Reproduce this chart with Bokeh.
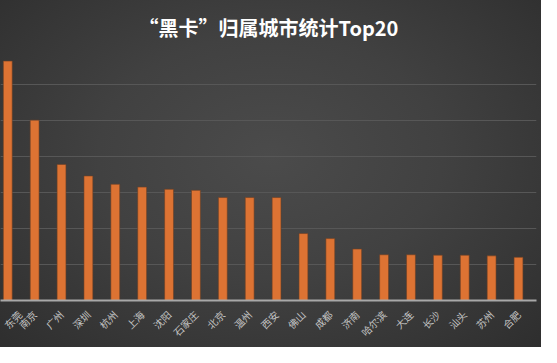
from bokeh.plotting import figure
from bokeh.models import Range1d, FixedTicker, Title
from bokeh.embed import file_html
from bokeh.resources import INLINE

cities = ["东莞", "南京", "广州", "深圳", "杭州", "上海", "沈阳", "石家庄", "北京", "温州",
          "西安", "佛山", "成都", "济南", "哈尔滨", "大连", "长沙", "汕头", "苏州", "合肥"]
values = [6.65, 5.01, 3.78, 3.46, 3.23, 3.15, 3.09, 3.06, 2.86, 2.86,
          2.86, 1.86, 1.72, 1.43, 1.27, 1.27, 1.26, 1.26, 1.24, 1.20]
title_text = "“黑卡”归属城市统计Top20"

xs = list(range(len(cities)))

p = figure(width=541, height=347, output_backend="svg", toolbar_location=None,
           x_range=Range1d(-0.27, 19.67), y_range=Range1d(0, 7),
           min_border_left=0, min_border_right=5, min_border_top=48, min_border_bottom=36)

p.background_fill_color = None
p.border_fill_color = None
p.outline_line_color = None
p.styles = {"background-image": "radial-gradient(ellipse at 50% 45%, #4b4b4b 0%, #414141 45%, #353535 80%, #2e2e2e 100%)"}

t = Title(text=title_text, align="center", text_color="#ffffff", text_font_size="20px",
          text_font="Noto Sans CJK SC", text_font_style="bold", standoff=14)
p.add_layout(t, "above")

p.vbar(x=xs, top=values, width=0.33, bottom=0, fill_color="#DD7333",
       line_color="#6b3f25", line_width=0.6)

p.yaxis.visible = False
p.xgrid.visible = False
p.ygrid.ticker = FixedTicker(ticks=[1, 2, 3, 4, 5, 6, 7])
p.ygrid.grid_line_color = "#575757"
p.ygrid.grid_line_width = 1

ax = p.xaxis[0]
ax.ticker = FixedTicker(ticks=xs)
ax.major_label_overrides = {i: c for i, c in zip(xs, cities)}
ax.major_label_orientation = 0.785
ax.major_label_text_font = "Noto Sans CJK SC"
ax.major_label_text_font_size = "10px"
ax.major_label_text_color = "#c4c4c4"
ax.major_label_standoff = 6
ax.major_tick_line_color = None
ax.minor_tick_line_color = None
ax.axis_line_color = "#a8a8a8"
ax.axis_line_width = 2

open("out.html", "w").write(file_html(p, INLINE))
